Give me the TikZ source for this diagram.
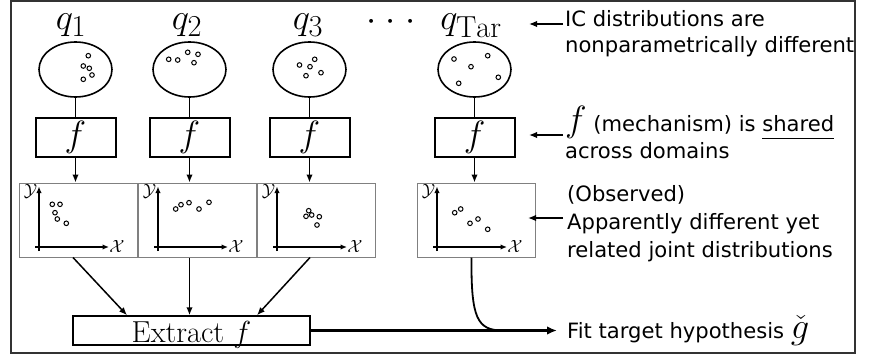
\RequirePackage{fix-cm}
\documentclass[tikz,border=0pt]{standalone}
\usepackage{fontspec}
\newfontfamily\dejavusans{DejaVu Sans}
\usetikzlibrary{arrows.meta,shapes.geometric}
\DeclareMathSizes{36.5}{36.5}{30.4}{25.35}
\DeclareMathSizes{30.4}{30.4}{25.35}{21.1}
\DeclareMathSizes{21.1}{21.1}{14.67}{10.27}
\DeclareMathSizes{17.6}{17.6}{12.9}{10.27}
\newcommand\qsize{\fontsize{36.5}{44}\selectfont}
\newcommand\exsize{\fontsize{30.4}{37}\selectfont}
\newcommand\annsize{\fontsize{21.1}{26}\selectfont\dejavusans}
\newcommand\axsize{\fontsize{17.6}{21}\selectfont}
\begin{document}
\begin{tikzpicture}[x=1pt,y=-1pt,
  frame/.style={draw=black!80, line width=1.5pt},
  ell/.style={ellipse, draw, line width=1.6pt, minimum width=73pt, minimum height=55pt, inner sep=0pt},
  mech/.style={rectangle, draw, line width=2pt, minimum width=80pt, minimum height=39pt, inner sep=0pt, font=\qsize},
  sbox/.style={rectangle, draw=black!50, line width=1pt, minimum width=118pt, minimum height=74pt, inner sep=0pt},
  exbox/.style={rectangle, draw, line width=1.5pt, minimum width=237pt, minimum height=29pt, inner sep=0pt, text height=26pt, text depth=2pt, font=\exsize},
  qlab/.style={anchor=base, inner sep=0pt, font=\qsize},
  ann/.style={anchor=base west, inner sep=0pt, font=\annsize},
  axl/.style={inner sep=0pt, font=\axsize},
  link/.style={line width=1.6pt},
  arr/.style={line width=1.5pt, -{Latex[length=8pt,width=6.5pt]}},
  bigarr/.style={line width=2.3pt, -{Latex[length=10pt,width=8.5pt]}},
  axline/.style={line width=1.3pt, -{Latex[length=6.5pt,width=5.5pt]}},
  dotc/.style={draw, line width=1pt},
]
\useasboundingbox (0,0) rectangle (875,356);
\draw[frame] (11,1) rectangle (855,353);

% labels
\node[qlab] (q1) at (71,29) {$q_1$};
\node[qlab] (q2) at (187,29) {$q_2$};
\node[qlab] (q3) at (308,29) {$q_3$};
\node[qlab] (dots) at (391,30.5) {$\cdot$\hspace{9.3pt}$\cdot$\hspace{9.3pt}$\cdot$};
\node[qlab] (qT) at (471,29) {$q_{\mathrm{Tar}}$};

% ellipses
\node[ell] (e1) at (75.5,69.5) {};
\node[ell] (e2) at (189.5,69.5) {};
\node[ell] (e3) at (309.5,69.5) {};
\node[ell] (eT) at (474.5,69.5) {};
\foreach \px/\py in {88.3/55.7, 83.3/66, 89.3/68.3, 92/75, 83.3/79.3,
                     168.7/59.3, 177.7/60, 187.7/52.3, 198/54.3, 194/62.7,
                     299.5/65, 314.7/59.3, 310/66.7, 306/75.7, 321/72.7,
                     454/59, 471/66.7, 487.7/55.7, 458.7/83.3, 498.3/77.3}
  \draw[dotc] (\px,\py) circle[radius=2.3pt];

% mechanism boxes
\node[mech] (f1) at (75.5,137.5) {$f$};
\node[mech] (f2) at (189.5,137.5) {$f$};
\node[mech] (f3) at (309.5,137.5) {$f$};
\node[mech] (fT) at (474.5,137.5) {$f$};

% scatter boxes
\foreach \n/\L in {s1/19, s2/138, s3/257, sT/417} {
  \node[sbox] (\n) at (\L+59,220) {};
  \coordinate (\n-xo) at (\L+16,247);
  \coordinate (\n-xe) at (\L+90,247);
  \coordinate (\n-yo) at (\L+20,251);
  \coordinate (\n-ye) at (\L+20,186.5);
  \draw[axline] (\n-xo) -- (\n-xe);
  \draw[axline] (\n-yo) -- (\n-ye);
  \node[axl] (\n-X) at (\L+98,246) {$\mathcal{X}$};
  \node[axl] (\n-Y) at (\L+11.5,191.5) {$\mathcal{Y}$};
}
\foreach \px/\py in {52.3/204.3, 60/204.3, 55/212.7, 57.3/219, 66.3/223.3,
                     175.7/209, 181/204.7, 189/202.7, 199/209, 209/202.3,
                     308.7/210.7, 306/216.3, 311.7/215, 319.3/216.7, 317/225,
                     454.7/212.7, 460.7/209, 470/223.3, 478/219, 487.7/229.3}
  \draw[dotc] (\px,\py) circle[radius=2.3pt];

% links
\draw[link] (e1) -- (f1);
\draw[link] (e2) -- (f2);
\draw[link] (e3) -- (f3);
\draw[link] (eT) -- (fT);
\draw[arr] (f1.south) -- (f1.south |- s1.north);
\draw[arr] (f2.south) -- (f2.south |- s2.north);
\draw[arr] (f3.south) -- (f3.south |- s3.north);
\draw[arr] (fT.south) -- (fT.south |- sT.north);

% extract
\node[exbox] (ex) at (191.5,330.5) {Extract $f$};
\draw[arr] ([xshift=-5pt]s1.south) -- ([xshift=-64.5pt]ex.north);
\draw[arr] (f2.south |- s2.south) -- (f2.south |- ex.north);
\draw[arr] ([xshift=-6pt]s3.south) -- ([xshift=65.5pt]ex.north);

% fit target
\coordinate (jn) at (503,330.5);
\coordinate (fitend) at (557,330.5);
\draw[line width=1.8pt] ([xshift=-4.5pt]sT.south) .. controls (471,318) and (477,330.5) .. (jn);
\draw[bigarr] (ex.east) -- (fitend);

% annotations
\coordinate (a1s) at (563,24);  \coordinate (a1e) at (529,24);
\coordinate (a2s) at (563,135); \coordinate (a2e) at (529,135);
\coordinate (a3s) at (563,218); \coordinate (a3e) at (528,218);
\draw[arr] (a1s) -- (a1e);
\draw[arr] (a2s) -- (a2e);
\draw[arr] (a3s) -- (a3e);
\node[ann] (t1a) at (565,26.5) {IC distributions are};
\node[ann] (t1b) at (565,52.5) {nonparametrically different};
\node[ann] (t2a) at (565,131) {{\qsize$f$} (mechanism) is \underline{shared\rule[-6pt]{0pt}{1pt}}};
\node[ann] (t2b) at (565,158) {across domains};
\node[ann] (t3a) at (567,201) {(Observed)};
\node[ann] (t3b) at (567,229) {Apparently different yet};
\node[ann] (t3c) at (567,257) {related joint distributions};
\node[ann] (t4) at (567,338) {Fit target hypothesis {\qsize$\check{g}$}};
\end{tikzpicture}
\end{document}
